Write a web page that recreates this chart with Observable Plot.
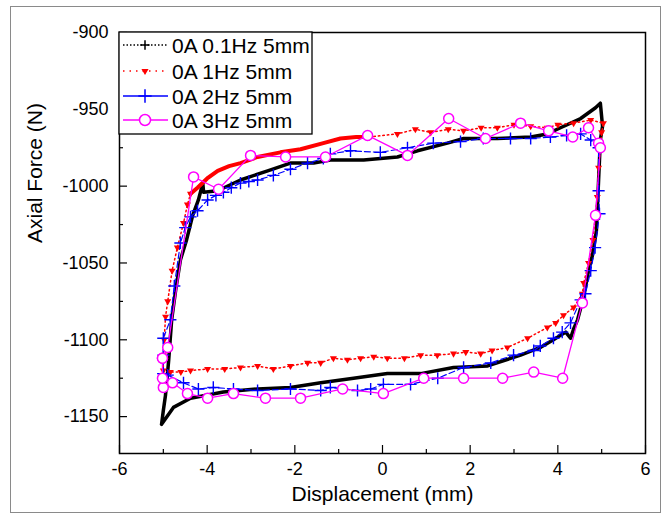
<!DOCTYPE html>
<html><head><meta charset="utf-8">
<script src="https://cdn.jsdelivr.net/npm/d3@7"></script>
<script src="https://cdn.jsdelivr.net/npm/@observablehq/plot@0.6"></script>
<style>
body{margin:0;background:#fff;}
#wrap{position:relative;width:664px;height:517px;overflow:hidden;background:#fff;}
#border{position:absolute;left:10px;top:6px;width:651px;height:507px;border:1.5px solid #8a8a8a;box-sizing:border-box;pointer-events:none;}
</style></head><body><div id="wrap"><div id="border"></div></div>
<script>
// ---- tick values ----
const xMajor = [-6, -4, -2, 0, 2, 4, 6];
const xMinor = [-5, -3, -1, 1, 3, 5];
const yMajor = [-1150, -1100, -1050, -1000, -950, -900];
const yMinor = [-1125, -1075, -1025, -975, -925];

// ---- legend labels ----
const seriesLabels = ["0A 0.1Hz 5mm", "0A 1Hz 5mm", "0A 2Hz 5mm", "0A 3Hz 5mm"];

// ---- 0A 0.1Hz 5mm (black) ----
const blackX = [-5.04,-5.0,-4.95,-4.88,-4.81,-4.72,-4.61,-4.47,-4.33,-4.2,-4.1,-4.08,-3.76,-3.24,-2.62,-2.1,-1.57,-1.19,-0.43,0.34,0.8,1.48,1.85,2.62,3.38,3.76,4.06,4.52,4.86,4.97,5.02,4.97,4.93,4.88,4.79,4.7,4.59,4.45,4.36,4.29,4.18,3.9,3.6,3.15,2.4,1.62,0.87,0.11,-0.66,-1.41,-2.1,-2.85,-3.63,-4.38,-4.77,-5.04];
const blackY = [-1155,-1146,-1136,-1114,-1087,-1068,-1048,-1035,-1019,-1009,-998,-1004,-1003,-996,-990,-985,-985,-983,-983,-981,-977,-972,-969,-969,-968,-966,-962,-956,-949,-946,-961,-970,-996,-1029,-1045,-1055,-1072,-1087,-1093,-1099,-1095,-1100,-1105,-1110,-1117,-1118,-1122,-1122,-1125,-1128,-1131,-1132,-1134,-1138,-1144,-1155];

// ---- 0A 1Hz 5mm (red): densely sampled upper-left part and sparse remainder ----
const redDenseX = [-4.38,-4.22,-4.0,-3.76,-3.5,-3.24,-2.85,-2.33,-1.87,-1.35,-0.96,-0.6,-0.3];
const redDenseY = [-1005,-1001,-995,-990,-987,-985,-981,-978,-976,-972,-969,-968,-968];
const redX = [-0.3,0.34,0.75,1.1,1.5,1.85,2.25,2.62,3.0,3.38,3.76,4.0,4.36,4.75,5.04,5.0,4.93,4.9,4.8,4.7,4.59,4.56,4.36,4.13,3.95,3.76,3.31,2.85,2.5,2.24,1.9,1.62,1.25,0.87,0.5,0.11,-0.2,-0.5,-0.8,-1.12,-1.41,-1.71,-2.1,-2.49,-2.85,-3.24,-3.6,-3.99,-4.38,-4.6,-4.84,-5.0,-5.0,-4.98,-4.95,-4.9,-4.8,-4.68,-4.54,-4.45,-4.38];
const redY = [-968,-966,-963,-965,-963,-964,-962,-962,-960,-961,-962,-960,-959,-957,-959,-965,-988,-1007,-1035,-1050,-1063,-1070,-1079,-1084,-1089,-1092,-1099,-1105,-1107,-1109,-1108,-1109,-1110,-1110,-1112,-1112,-1111,-1112,-1113,-1112,-1115,-1115,-1117,-1119,-1117,-1118,-1119,-1119,-1120,-1121,-1121,-1120,-1110,-1100,-1085,-1075,-1055,-1040,-1024,-1012,-1005];

// ---- 0A 2Hz 5mm (blue) ----
const blueX = [-5.0,-5.0,-5.0,-4.84,-4.75,-4.61,-4.5,-4.38,-4.22,-3.99,-3.8,-3.63,-3.45,-3.24,-3.05,-2.85,-2.49,-2.1,-1.71,-1.35,-1.19,-0.73,-0.05,0.57,1.16,1.78,2.3,2.92,3.38,3.83,4.2,4.52,4.75,4.93,4.93,4.95,4.85,4.75,4.63,4.52,4.29,4.1,3.9,3.6,3.45,2.99,2.47,1.85,1.26,0.64,0.02,-0.27,-0.57,-1.19,-1.41,-2.1,-2.85,-3.4,-3.86,-4.2,-4.54,-4.9,-5.0];
const blueY = [-1122,-1110,-1099,-1087,-1065,-1037,-1027,-1020,-1016,-1009,-1006,-1004,-1001,-998,-997,-996,-993,-989,-985,-982,-979,-977,-978,-975,-972,-971,-969,-969,-969,-968,-967,-966,-970,-975,-1003,-1018,-1040,-1055,-1070,-1074,-1089,-1095,-1099,-1104,-1107,-1110,-1115,-1118,-1125,-1129,-1129,-1132,-1133,-1131,-1133,-1132,-1133,-1132,-1131,-1132,-1128,-1123,-1122];

// ---- 0A 3Hz 5mm (magenta) ----
const magX = [-5.02,-4.9,-4.31,-3.74,-3.01,-2.21,-1.3,-0.34,0.57,1.51,2.35,3.15,3.79,4.34,4.7,4.93,4.97,4.86,4.56,4.11,3.45,2.74,1.85,0.94,0.02,-0.91,-1.87,-2.67,-3.4,-3.99,-4.45,-4.79,-5.0,-5.02,-5.02];
const magY = [-1112,-1105,-994,-1002,-980,-981,-981,-967,-980,-956,-969,-959,-964,-968,-962,-972,-975,-1019,-1076,-1125,-1121,-1125,-1125,-1125,-1135,-1132,-1138,-1138,-1135,-1138,-1135,-1128,-1131,-1125,-1112];

const pts = (xs, ys) => xs.map((x, i) => ({x, y: ys[i]}));
const black = pts(blackX, blackY);
const redDense = pts(redDenseX, redDenseY);
const red = pts(redX, redY);
const blue = pts(blueX, blueY);
const mag = pts(magX, magY);

const RED = "#ff0000", BLUE = "#0000ff", MAG = "#ff00ff";
const fmt = d => String(d);

const chart = Plot.plot({
  width: 664, height: 517,
  marginLeft: 119, marginRight: 19, marginTop: 32, marginBottom: 64,
  x: {domain: [-6, 6]},
  y: {domain: [-1174, -900]},
  style: {fontFamily: "'Liberation Sans', Arial, sans-serif", fontSize: "18px", color: "black", background: "transparent", overflow: "visible"},
  marks: [
    Plot.axisX({ticks: xMajor, tickSize: -8, tickFormat: () => "", label: null, strokeWidth: 1.2}),
    Plot.axisX({ticks: xMinor, tickSize: -4, tickFormat: () => "", label: null, strokeWidth: 1.2}),
    Plot.axisX({ticks: xMajor, tickSize: 0, tickPadding: 9, label: null, tickFormat: fmt}),
    Plot.axisY({ticks: yMajor, tickSize: -8, tickFormat: () => "", label: null, strokeWidth: 1.2}),
    Plot.axisY({ticks: yMinor, tickSize: -4, tickFormat: () => "", label: null, strokeWidth: 1.2}),
    Plot.axisY({ticks: yMajor, tickSize: 0, tickPadding: 11, label: null, tickFormat: fmt}),
    Plot.text(["Displacement (mm)"], {frameAnchor: "bottom", dy: 47, fontSize: 21}),
    Plot.text(["Axial Force (N)"], {frameAnchor: "left", dx: -84, rotate: -90, fontSize: 21}),
    Plot.line(black, {x: "x", y: "y", stroke: "black", strokeWidth: 3.5}),
    Plot.line(redDense, {x: "x", y: "y", stroke: RED, strokeWidth: 4}),
    Plot.line(red, {x: "x", y: "y", stroke: RED, strokeWidth: 1.5, strokeDasharray: "1.5,3"}),
    Plot.dot(red, {x: "x", y: "y", symbol: "triangle", r: 2.6, fill: RED, rotate: 180}),
    Plot.line(blue, {x: "x", y: "y", stroke: BLUE, strokeWidth: 1.2, strokeDasharray: "6,3"}),
    Plot.dot(blue, {x: "x", y: "y", symbol: "plus", r: 4, stroke: BLUE, strokeWidth: 1.4}),
    Plot.line(mag, {x: "x", y: "y", stroke: MAG, strokeWidth: 1.3}),
    Plot.dot(mag, {x: "x", y: "y", r: 5, stroke: MAG, fill: "white", strokeWidth: 1.5}),
    Plot.frame({stroke: "black", strokeWidth: 1.5})
  ]
});
document.getElementById("wrap").appendChild(chart);
chart.style.position = "absolute";
chart.style.left = "0px";
chart.style.top = "0px";

// ---- legend box (inside the plot, top-left) ----
const svg = d3.select(chart);
const lg = svg.append("g").attr("text-anchor", "start");
lg.append("rect").attr("x", 119).attr("y", 32).attr("width", 193).attr("height", 102)
  .attr("fill", "white").attr("stroke", "black").attr("stroke-width", 1.3);
const rowY = [45, 71, 96, 120];
const styles = [
  {color: "black", dash: "1.5,2", w: 1.3},
  {color: RED, dash: "1.5,5", w: 1.5},
  {color: BLUE, dash: null, w: 1.5},
  {color: MAG, dash: null, w: 1.5}
];
seriesLabels.forEach((lab, i) => {
  const y = rowY[i], s = styles[i];
  const ln = lg.append("line").attr("x1", 123).attr("x2", 168).attr("y1", y).attr("y2", y)
    .attr("stroke", s.color).attr("stroke-width", s.w);
  if (s.dash) ln.attr("stroke-dasharray", s.dash);
  if (i === 0) {
    lg.append("path").attr("d", d3.symbol(d3.symbolPlus, 30)()).attr("transform", `translate(145,${y})`)
      .attr("stroke", "black").attr("stroke-width", 1.5).attr("fill", "none");
  } else if (i === 1) {
    lg.append("path").attr("d", d3.symbol(d3.symbolTriangle, 22)()).attr("transform", `translate(145,${y}) rotate(180)`)
      .attr("fill", RED);
  } else if (i === 2) {
    lg.append("path").attr("d", d3.symbol(d3.symbolPlus, 60)()).attr("transform", `translate(145,${y})`)
      .attr("stroke", BLUE).attr("stroke-width", 1.5).attr("fill", "none");
  } else {
    lg.append("circle").attr("cx", 145).attr("cy", y).attr("r", 5.5)
      .attr("stroke", MAG).attr("stroke-width", 1.5).attr("fill", "white");
  }
  lg.append("text").attr("x", 172).attr("y", y).attr("dy", "0.36em")
    .attr("text-anchor", "start").attr("font-size", 21).attr("fill", "black").text(lab);
});
</script>
</body></html>
